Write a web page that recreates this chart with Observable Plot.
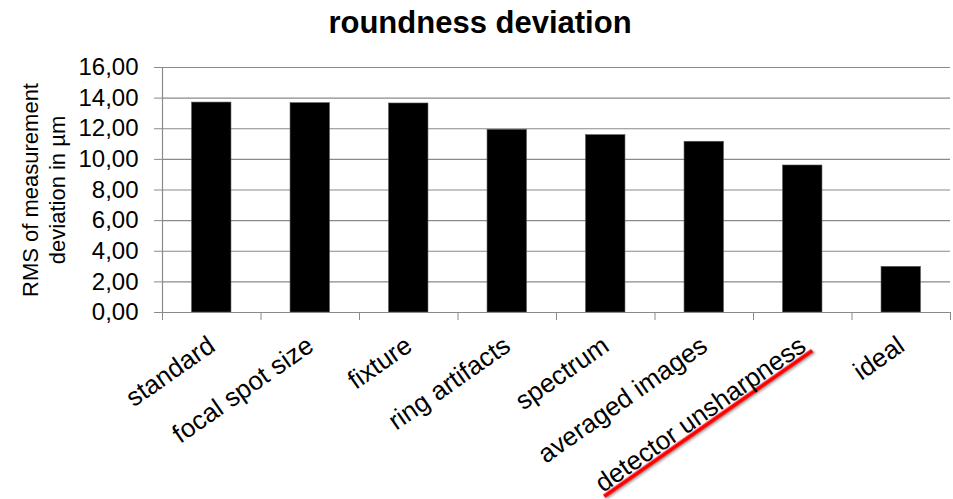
<!DOCTYPE html>
<html>
<head>
<meta charset="utf-8">
<script src="https://cdn.jsdelivr.net/npm/d3@7"></script>
<script src="https://cdn.jsdelivr.net/npm/@observablehq/plot@0.6"></script>
<style>
  html, body { margin: 0; padding: 0; background: white; overflow: hidden; }
  #title {
    width: 953px; height: 50px; box-sizing: border-box;
    padding-top: 7px; padding-left: 7px;
    text-align: center;
    font: bold 31px/31px "Liberation Sans", Arial, sans-serif;
    color: black;
  }
  #chart svg { display: block; }
</style>
</head>
<body>
<div id="title"></div>
<div id="chart"></div>
<script>
// Chart content
const titleText = "roundness deviation";
const yLabel = "RMS of measurement\ndeviation in µm";
const categories = [
  "standard", "focal spot size", "fixture", "ring artifacts",
  "spectrum", "averaged images", "detector unsharpness", "ideal"
];
const rmsValues = [13.71, 13.67, 13.65, 11.93, 11.58, 11.15, 9.60, 2.98];
const yTicks = [0, 2, 4, 6, 8, 10, 12, 14, 16];
const highlighted = ["detector unsharpness"];

document.getElementById("title").textContent = titleText;

const rows = categories.map((name, i) => ({ name, i, value: rmsValues[i] }));
const n = categories.length;
const gray = "#8a8a8a";
const fmt = v => d3.format(".2f")(v).replace(".", ",");

const chart = Plot.plot({
  width: 953,
  height: 449,
  marginTop: 17,
  marginBottom: 187,
  marginLeft: 162,
  marginRight: 3,
  style: { fontFamily: "'Liberation Sans', Arial, sans-serif", color: "black", background: "white" },
  x: { type: "linear", domain: [0, n], axis: null },
  y: { domain: [0, 16], axis: null },
  marks: [
    Plot.gridY({ ticks: yTicks.filter(v => v > 0), stroke: gray, strokeOpacity: 1, strokeWidth: 1.2 }),
    // each category owns one unit of x; its bar fills the middle 40%
    Plot.rectY(rows, { x1: d => d.i + 0.3, x2: d => d.i + 0.7, y: "value", fill: "black", stroke: "#555", strokeWidth: 0.6 }),
    Plot.ruleY([0], { stroke: gray, strokeWidth: 1.2 }),
    Plot.ruleX([0], { stroke: gray, strokeWidth: 1.2 }),
    Plot.axisY({ ticks: yTicks, tickSize: 8, tickPadding: 16, tickFormat: fmt, fontSize: 24, stroke: gray, label: null }),
    Plot.axisX({ ticks: d3.range(0, n + 1), tickSize: 8, tickFormat: () => "", stroke: gray, label: null }),
    Plot.text(rows, {
      x: d => d.i + 0.5, text: "name", frameAnchor: "bottom",
      rotate: -35, textAnchor: "end", lineAnchor: "bottom",
      dx: 5, dy: 37, fontSize: 26, fill: "black"
    }),
    Plot.text([yLabel], {
      frameAnchor: "left", rotate: -90, textAnchor: "middle", lineAnchor: "middle",
      dx: -120, fontSize: 22, lineHeight: 1.23, fill: "black"
    })
  ]
});

document.getElementById("chart").appendChild(chart);

// red underline beneath the highlighted category label
const svgNS = "http://www.w3.org/2000/svg";
chart.querySelectorAll("text").forEach(t => {
  if (!highlighted.includes(t.textContent)) return;
  const bb = t.getBBox();
  const line = document.createElementNS(svgNS, "line");
  if (t.getAttribute("transform")) line.setAttribute("transform", t.getAttribute("transform"));
  const yb = bb.y + bb.height - 2.5;
  line.setAttribute("x1", bb.x - 1);
  line.setAttribute("x2", bb.x + bb.width + 3);
  line.setAttribute("y1", yb);
  line.setAttribute("y2", yb);
  line.setAttribute("stroke", "#ff0000");
  line.setAttribute("stroke-width", 4);
  line.style.filter = "drop-shadow(1px 2px 1.2px rgba(0,0,0,0.35))";
  t.parentNode.insertBefore(line, t);
});
</script>
</body>
</html>
